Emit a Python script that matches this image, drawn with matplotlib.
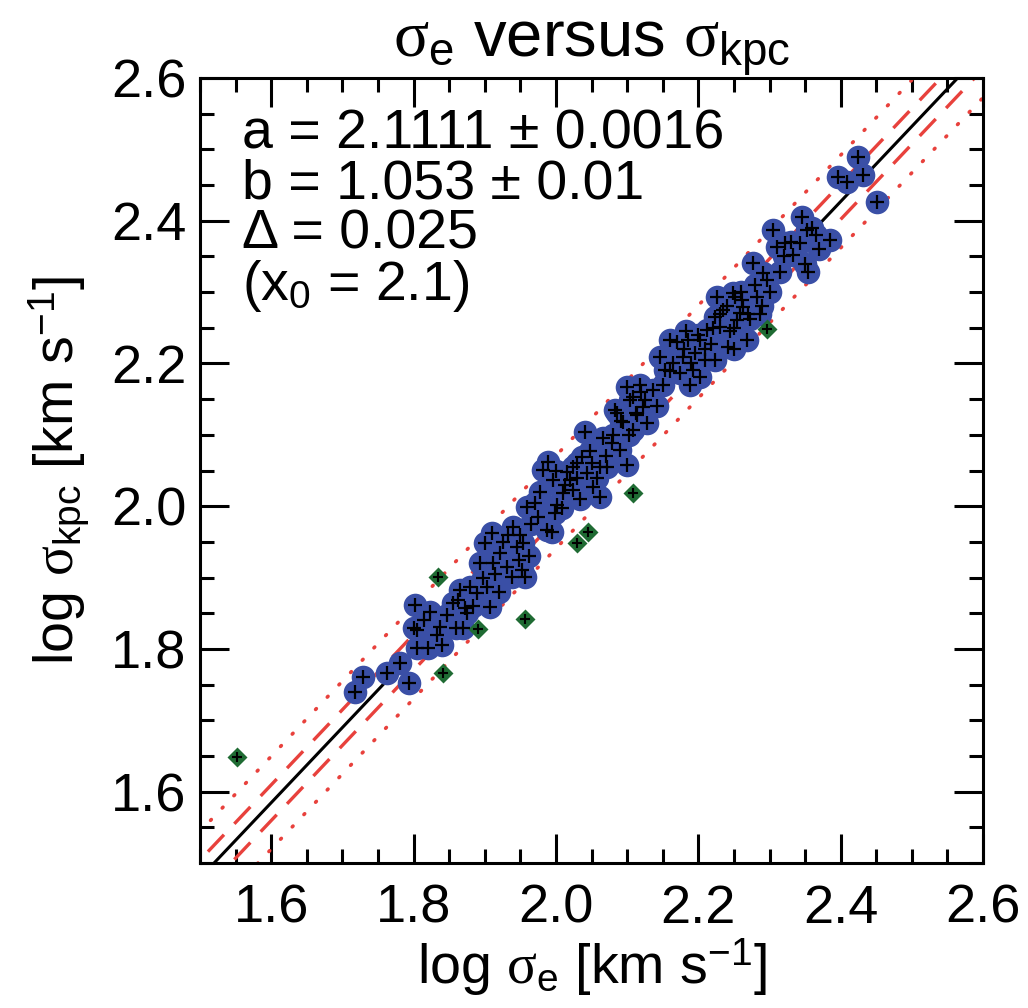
import matplotlib
matplotlib.use('Agg')
import matplotlib.pyplot as plt
import numpy as np

plt.rcParams['font.family'] = 'Liberation Sans'
plt.rcParams['mathtext.fontset'] = 'custom'
plt.rcParams['mathtext.rm'] = 'Liberation Sans'
plt.rcParams['mathtext.it'] = 'Liberation Serif'
plt.rcParams['mathtext.bf'] = 'Liberation Sans:bold'

# fit parameters
a, b, delta, x0 = 2.1111, 1.053, 0.025, 2.1

# fitted points (blue circles)
blue_x = [1.718, 1.729, 1.763, 1.781, 1.794, 1.805, 1.805, 1.802, 1.823, 1.820,
          1.840, 1.833, 1.869, 1.872, 1.879, 1.889, 1.893, 1.855, 1.847, 1.837,
          1.862, 1.903, 1.907, 1.900, 1.910, 1.921, 1.931, 1.938, 1.957, 1.945,
          1.940, 1.954, 1.959, 1.975, 1.987, 1.994, 1.982, 1.989, 1.996, 2.002,
          2.010, 2.020, 2.024, 2.037, 2.041, 2.044, 2.062, 2.062, 2.052, 2.024,
          2.079, 2.090, 2.100, 2.086, 2.104, 2.100, 2.122, 2.128, 2.108, 2.136,
          2.188, 2.072, 2.083, 2.108, 2.125, 2.153, 2.146, 2.160, 2.179, 2.174,
          2.193, 2.202, 2.186, 2.202, 2.212, 2.224, 2.226, 2.224, 2.242, 2.252,
          2.254, 2.268, 2.263, 2.283, 2.277, 2.291, 2.297, 2.315, 2.311, 2.322,
          2.343, 2.354, 2.353, 2.385, 2.305, 2.424, 2.431, 2.409, 2.396, 2.451,
          2.345, 2.249, 2.261, 2.231, 2.259, 1.865, 1.915, 1.925, 1.948, 1.965,
          1.970, 1.978, 1.998, 2.008, 2.015, 2.030, 2.034, 2.048, 2.066, 2.094,
          2.114, 2.118, 2.142, 2.150, 2.165, 2.182, 2.196, 2.210, 2.218, 2.235,
          2.245, 2.272, 2.286, 2.300, 2.333, 2.365,
          1.860, 1.875, 1.884, 1.898, 1.912, 1.920, 1.932, 1.950, 1.952, 1.962,
          2.000, 2.012, 2.030, 2.050, 2.058, 2.070, 2.080, 2.092, 2.102, 2.112,
          2.120, 2.160, 2.170, 2.180, 2.190, 2.200, 2.210, 2.220, 2.230, 2.240,
          2.250, 2.260, 2.270, 2.280, 2.290, 2.250, 2.320, 2.330, 2.360, 2.370,
          2.350, 1.800, 1.815]
blue_y = [1.740, 1.761, 1.766, 1.780, 1.752, 1.801, 1.827, 1.862, 1.852, 1.801,
          1.805, 1.820, 1.829, 1.857, 1.887, 1.878, 1.920, 1.864, 1.848, 1.831,
          1.868, 1.887, 1.859, 1.948, 1.962, 1.934, 1.915, 1.901, 1.901, 1.943,
          1.971, 1.948, 1.999, 1.985, 1.967, 1.964, 2.051, 2.062, 2.037, 2.002,
          2.018, 2.037, 2.055, 2.069, 2.104, 2.047, 2.055, 2.013, 2.027, 2.023,
          2.089, 2.079, 2.058, 2.131, 2.149, 2.167, 2.139, 2.117, 2.107, 2.163,
          2.170, 2.055, 2.135, 2.153, 2.149, 2.191, 2.209, 2.233, 2.209, 2.187,
          2.191, 2.181, 2.233, 2.233, 2.247, 2.265, 2.293, 2.205, 2.223, 2.293,
          2.261, 2.233, 2.279, 2.293, 2.341, 2.327, 2.317, 2.328, 2.363, 2.369,
          2.369, 2.328, 2.387, 2.373, 2.387, 2.489, 2.464, 2.454, 2.461, 2.426,
          2.405, 2.299, 2.289, 2.251, 2.271, 1.882, 1.905, 1.950, 1.925, 1.975,
          2.005, 2.020, 1.990, 1.998, 2.048, 2.040, 2.010, 2.078, 2.095, 2.118,
          2.128, 2.170, 2.140, 2.170, 2.200, 2.245, 2.215, 2.205, 2.228, 2.275,
          2.245, 2.263, 2.270, 2.300, 2.352, 2.380,
          1.830, 1.850, 1.860, 1.900, 1.920, 1.880, 1.960, 1.960, 1.910, 1.930,
          2.050, 2.030, 2.060, 2.060, 2.040, 2.070, 2.100, 2.120, 2.100, 2.130,
          2.160, 2.190, 2.230, 2.220, 2.200, 2.240, 2.220, 2.250, 2.270, 2.280,
          2.250, 2.300, 2.270, 2.310, 2.280, 2.220, 2.350, 2.370, 2.390, 2.360,
          2.340, 1.830, 1.840]

# clipped outliers (green diamonds)
green_x = [1.552, 1.834, 1.841, 1.891, 1.957, 2.030, 2.045, 2.108, 2.297]
green_y = [1.649, 1.901, 1.766, 1.828, 1.842, 1.948, 1.964, 2.018, 2.248]

fig = plt.figure(figsize=(10.28, 10.08), dpi=100)
ax = fig.add_axes([0.1946, 0.1438, 0.7617, 0.7788])

red = '#e8413c'
xx = np.array([1.4, 2.7])
yy = a + b * (xx - x0)
ax.plot(xx, yy, color='k', lw=2.2, zorder=2)
for s in (-1, 1):
    ax.plot(xx, yy + s * delta, color=red, lw=2.4, ls=(0, (7, 4.5)), zorder=2)
    ax.plot(xx, yy + s * 2.6 * delta, color=red, lw=2.6, ls=(0, (0.3, 4.4)),
            dash_capstyle='round', zorder=2)

ax.plot(blue_x, blue_y, 'o', color='#3a4fa6', ms=17, mec='none', zorder=3)
ax.plot(blue_x, blue_y, '+', color='k', ms=10, mew=1.6, zorder=4)
ax.plot(green_x, green_y, 'D', color='#1f6b33', ms=10, mec='none', zorder=3)
ax.plot(green_x, green_y, '+', color='k', ms=7, mew=1.5, zorder=4)

ax.set_xlim(1.5, 2.6)
ax.set_ylim(1.5, 2.6)
ax.set_xticks(np.arange(1.6, 2.61, 0.2))
ax.set_yticks(np.arange(1.6, 2.61, 0.2))
ax.set_xticks(np.arange(1.5, 2.61, 0.05), minor=True)
ax.set_yticks(np.arange(1.5, 2.61, 0.05), minor=True)
ax.xaxis.set_major_formatter(plt.FormatStrFormatter('%.1f'))
ax.yaxis.set_major_formatter(plt.FormatStrFormatter('%.1f'))
ax.tick_params(which='both', direction='in', top=True, right=True, width=2.2,
               labelsize=39)
ax.tick_params(which='major', length=21)
ax.tick_params(which='minor', length=10)
ax.tick_params(axis='x', pad=15)
ax.tick_params(axis='y', pad=10)
for sp in ax.spines.values():
    sp.set_linewidth(2.2)

ax.set_xlabel(r'log $\sigma_{\rm e}$ [km s$^{-1}$]', fontsize=40, labelpad=2)
ax.set_ylabel(r'log $\sigma_{\rm kpc}$ [km s$^{-1}$]', fontsize=40, labelpad=14)
ax.set_title(r'$\sigma_{\rm e}$ versus $\sigma_{\rm kpc}$', fontsize=47, pad=8)

# fit summary as one block with tight line spacing (baseline = last line)
lines = ['a = 2.1111 \u00b1 0.0016', 'b = 1.053 \u00b1 0.01',
         '\u0394 = 0.025', r'($\mathrm{x_0}$ = 2.1)']
ax.text(0.0536, 0.717, '\n'.join(lines), transform=ax.transAxes,
        fontsize=40, va='baseline', ha='left', linespacing=0.95)

fig.savefig('out.png', dpi=100)
